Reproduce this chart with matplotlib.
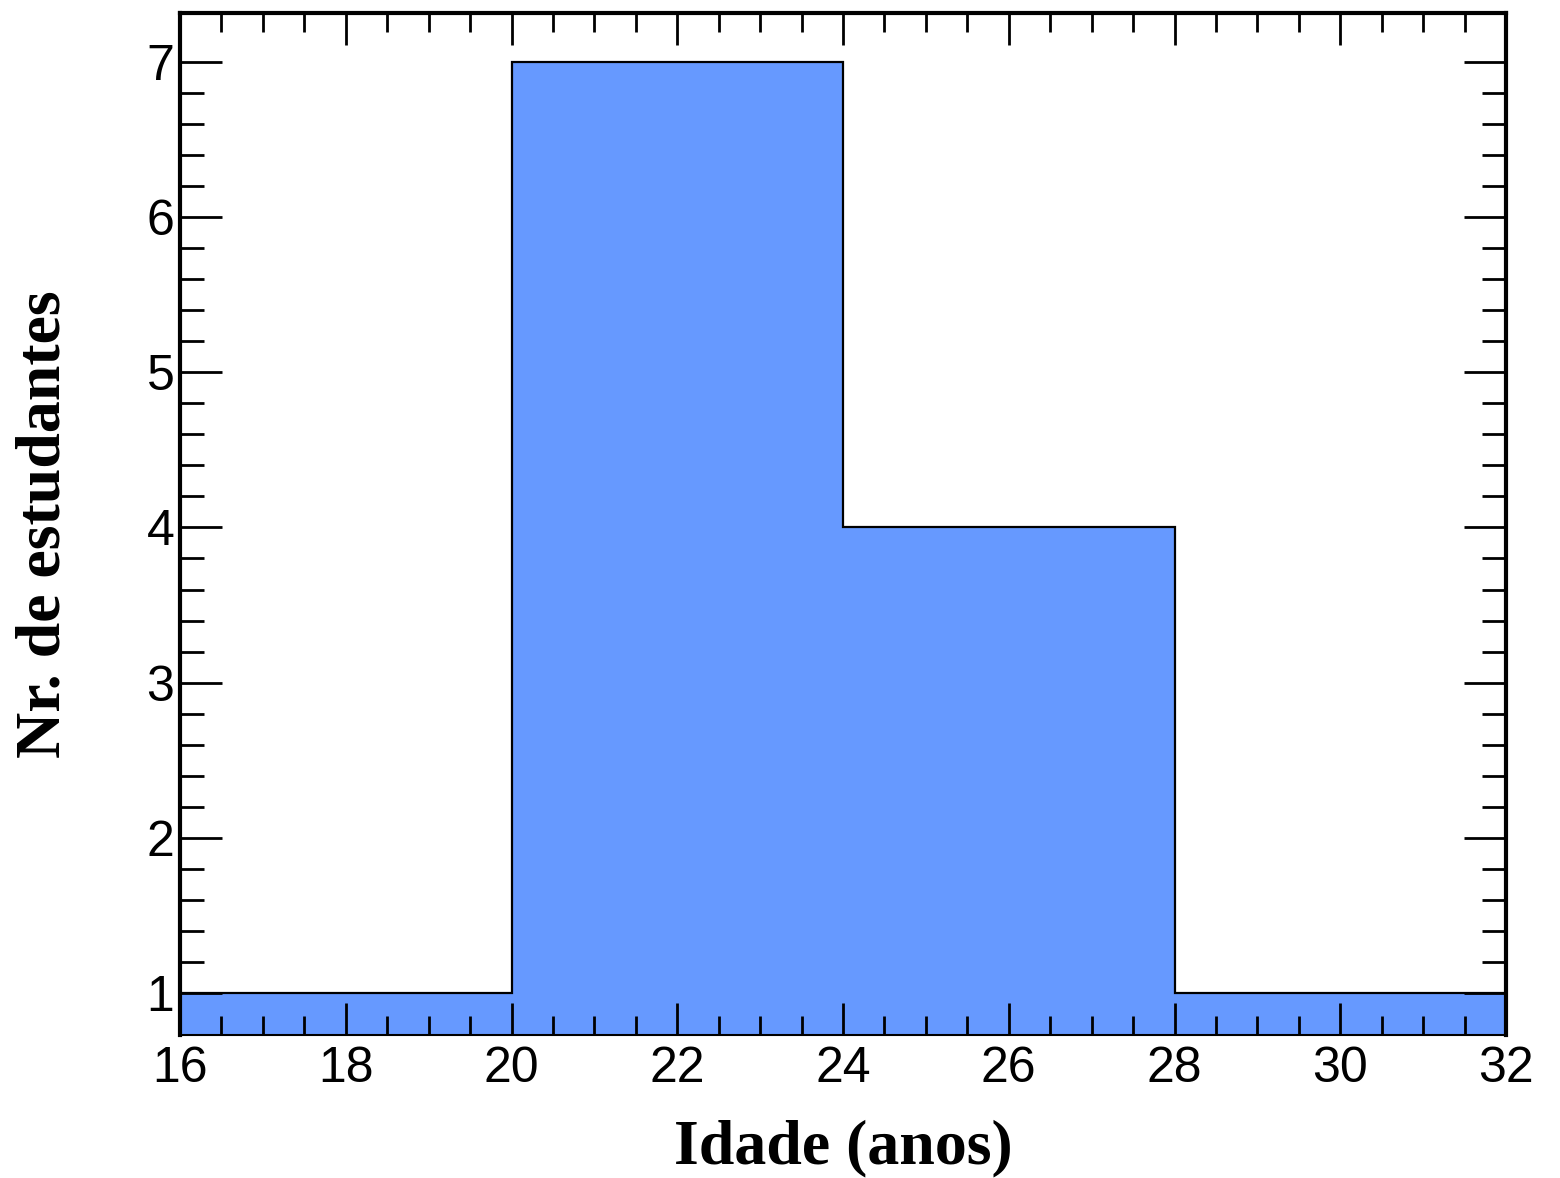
import numpy as np
import matplotlib
matplotlib.use('Agg')
from matplotlib import pyplot as plt
from matplotlib.ticker import MultipleLocator, FixedLocator

# histogram data
bin_edges = [16, 20, 24, 28, 32]
counts = [1, 7, 4, 1]

x_label = 'Idade (anos)'
y_label = 'Nr. de estudantes'

fig = plt.figure(figsize=(15.6, 11.78), dpi=100)
ax = fig.add_axes([0.1154, 0.1214, 0.85, 0.8676])

ax.stairs(counts, bin_edges, fill=True, color='#6699ff', baseline=0)
ax.stairs(counts, bin_edges, fill=False, color='black', linewidth=1.6, baseline=0)

ax.set_xlim(16, 32)
ax.set_ylim(0.729, 7.316)

ax.xaxis.set_major_locator(MultipleLocator(2))
ax.xaxis.set_minor_locator(MultipleLocator(0.5))
ax.yaxis.set_major_locator(MultipleLocator(1))
# ROOT style: minor ticks only between the labelled majors
ax.yaxis.set_minor_locator(FixedLocator(np.arange(1, 7.01, 0.2)))

ax.tick_params(axis='both', which='both', direction='in', top=True, right=True, width=2)
ax.tick_params(axis='y', which='major', length=30)
ax.tick_params(axis='y', which='minor', length=17)
ax.tick_params(axis='x', which='major', length=23)
ax.tick_params(axis='x', which='minor', length=14)
ax.tick_params(axis='both', which='major', labelsize=36, pad=8)
ax.tick_params(axis='y', which='major', pad=4)

for lbl in ax.get_xticklabels() + ax.get_yticklabels():
    lbl.set_fontfamily('Liberation Sans')

for side in ['left', 'top', 'right']:
    ax.spines[side].set_linewidth(3)
ax.spines['bottom'].set_linewidth(1.5)

ax.set_xlabel(x_label, fontsize=46, fontweight='bold', family='Liberation Serif')
ax.set_ylabel(y_label, fontsize=46, fontweight='bold', family='Liberation Serif')
ax.xaxis.set_label_coords(0.5, -0.083)
ax.yaxis.set_label_coords(-0.08, 0.5)

fig.savefig('out.png', dpi=100)
